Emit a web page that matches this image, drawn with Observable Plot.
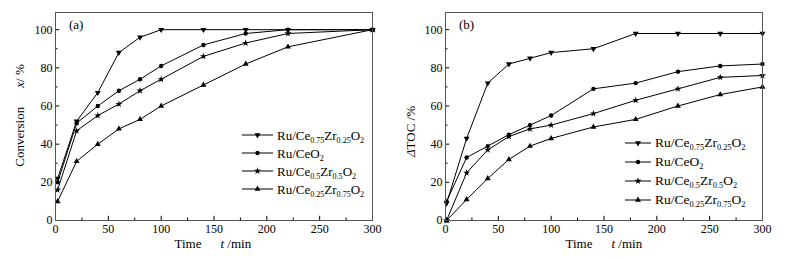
<!DOCTYPE html>
<html><head><meta charset="utf-8">
<script src="https://cdn.jsdelivr.net/npm/d3@7"></script>
<script src="https://cdn.jsdelivr.net/npm/@observablehq/plot@0.6"></script>
<style>
body{margin:0;background:#fff;font-family:"Liberation Serif","Times New Roman",serif;color:#000;}
#wrap{position:relative;width:787px;height:261px;overflow:hidden;}
.panel{position:absolute;top:0;}
.lab{position:absolute;white-space:nowrap;font-size:13px;line-height:1;}
.legend{position:absolute;font-size:13px;line-height:1;}
.row{position:absolute;left:0;white-space:nowrap;display:flex;align-items:center;}
.row svg{display:block;}
.row span{margin-left:4px;}
sub{font-size:0.62em;vertical-align:-0.35em;line-height:0;}
</style></head><body><div id="wrap"></div>
<script>
// ---- data ----
const seriesNames = ["Ru/Ce0.75Zr0.25O2", "Ru/CeO2", "Ru/Ce0.5Zr0.5O2", "Ru/Ce0.25Zr0.75O2"];
const seriesHTML = [
  "Ru/Ce<sub>0.75</sub>Zr<sub>0.25</sub>O<sub>2</sub>",
  "Ru/CeO<sub>2</sub>",
  "Ru/Ce<sub>0.5</sub>Zr<sub>0.5</sub>O<sub>2</sub>",
  "Ru/Ce<sub>0.25</sub>Zr<sub>0.75</sub>O<sub>2</sub>"
];
// panel (a): conversion x / %
const timeA = [2, 20, 40, 60, 80, 100, 140, 180, 220, 300];
const convCeZr7525 = [22, 52, 67, 88, 96, 100, 100, 100, 100, 100];
const convCeO2     = [20, 51, 60, 68, 74, 81, 92, 98, 100, 100];
const convCeZr5050 = [16, 47, 55, 61, 68, 74, 86, 93, 98, 100];
const convCeZr2575 = [10, 31, 40, 48, 53, 60, 71, 82, 91, 100];
// panel (b): ΔTOC / %
const timeB = [1, 20, 40, 60, 80, 100, 140, 180, 220, 260, 300];
const tocCeZr7525 = [9, 43, 72, 82, 85, 88, 90, 98, 98, 98, 98];
const tocCeO2     = [10, 33, 39, 45, 50, 55, 69, 72, 78, 81, 82];
const tocCeZr5050 = [0, 25, 37, 44, 48, 50, 56, 63, 69, 75, 76];
const tocCeZr2575 = [0, 11, 22, 32, 39, 43, 49, 53, 60, 66, 70];
// ticks
const xMajor = [0, 50, 100, 150, 200, 250, 300];
const xMinor = [25, 75, 125, 175, 225, 275];
const yMajor = [0, 20, 40, 60, 80, 100];
const yMinor = [10, 30, 50, 70, 90];

// ---- symbols ----
const triDown = {draw(ctx, size) {
  const y = -Math.sqrt(size / (3 * Math.sqrt(3)));
  ctx.moveTo(0, -y * 2);
  ctx.lineTo(-Math.sqrt(3) * y, y);
  ctx.lineTo(Math.sqrt(3) * y, y);
  ctx.closePath();
}};
const symbols = [triDown, "circle", "star", "triangle"];
const radii = [2.2, 2.2, 2.2, 2.2];

function tidy(t, arrs) {
  const out = [];
  arrs.forEach((a, k) => a.forEach((v, i) => out.push({t: t[i], v, name: seriesNames[k], k})));
  return out;
}

const wrap = document.getElementById("wrap");

function panel({left, width, marginRight, data}) {
  const H = 261, mT = 12, mB = 41, mL = 55;
  const chart = Plot.plot({
    width, height: H, marginLeft: mL, marginRight, marginTop: mT, marginBottom: mB,
    style: {fontFamily: "'Liberation Serif', 'Times New Roman', serif", fontSize: "12px", color: "#000", background: "transparent"},
    x: {domain: [0, 300], ticks: xMajor, tickSize: 0, tickPadding: 4, label: null},
    y: {domain: [0, 109], ticks: yMajor, tickSize: 0, tickPadding: 3, label: null},
    marks: [
      Plot.ruleX(xMajor, {x: d => d, y1: 0, y2: 2.2, stroke: "#000", strokeWidth: 1}),
      Plot.ruleX(xMinor, {x: d => d, y1: 0, y2: 1.3, stroke: "#000", strokeWidth: 1}),
      Plot.ruleY(yMajor, {y: d => d, x1: 0, x2: 4, stroke: "#000", strokeWidth: 1}),
      Plot.ruleY(yMinor, {y: d => d, x1: 0, x2: 2.4, stroke: "#000", strokeWidth: 1}),
      Plot.line(data, {x: "t", y: "v", z: "name", stroke: "#000", strokeWidth: 1}),
      ...symbols.map((s, k) => Plot.dot(data.filter(d => d.k === k), {
        x: "t", y: "v", symbol: s, r: radii[k], fill: "#000", stroke: "none"
      })),
      Plot.frame({stroke: "#555", strokeWidth: 1})
    ]
  });
  chart.classList.add("panel");
  chart.style.left = left + "px";
  wrap.appendChild(chart);
}

panel({left: 0, width: 390, marginRight: 18,
  data: tidy(timeA, [convCeZr7525, convCeO2, convCeZr5050, convCeZr2575])});
panel({left: 390, width: 397, marginRight: 25,
  data: tidy(timeB, [tocCeZr7525, tocCeO2, tocCeZr5050, tocCeZr2575])});

// ---- text labels ----
function label(html, x, y, opts = {}) {
  const d = document.createElement("div");
  d.className = "lab";
  d.innerHTML = html;
  d.style.left = x + "px";
  d.style.top = y + "px";
  if (opts.size) d.style.fontSize = opts.size + "px";
  wrap.appendChild(d);
  const w = d.offsetWidth, h = d.offsetHeight;
  if (opts.rotate) {
    d.style.left = (x - w / 2) + "px";
    d.style.top = (y - h / 2) + "px";
    d.style.transform = "rotate(-90deg)";
  } else if (opts.center) {
    d.style.left = (x - w / 2) + "px";
    d.style.top = (y - h / 2) + "px";
  } else {
    d.style.top = (y - h / 2) + "px";
  }
  return d;
}
label('Time<span style="display:inline-block;width:19px"></span><i>t</i> /min', 213, 243, {center: true});
label('Time<span style="display:inline-block;width:19px"></span><i>t</i> /min', 604, 243, {center: true});
label('Conversion<span style="display:inline-block;width:19px"></span><i>x</i>/ %', 19, 115, {rotate: true});
label('<i>Δ</i>TOC /%', 410, 131, {rotate: true});
label('(a)', 69, 24);
label('(b)', 459, 24);

// ---- legends ----
function legend(x, y0, gap, lineW, fs) {
  const lg = document.createElement("div");
  lg.className = "legend";
  lg.style.left = x + "px";
  lg.style.top = "0px";
  lg.style.fontSize = fs + "px";
  wrap.appendChild(lg);
  seriesNames.forEach((n, k) => {
    const row = document.createElement("div");
    row.className = "row";
    const s = d3.create("svg").attr("width", lineW).attr("height", 10);
    s.append("line").attr("x1", 0).attr("x2", lineW).attr("y1", 5).attr("y2", 5).attr("stroke", "#000").attr("stroke-width", 1);
    const sym = typeof symbols[k] === "string"
      ? {circle: d3.symbolCircle, star: d3.symbolStar, triangle: d3.symbolTriangle}[symbols[k]]
      : symbols[k];
    s.append("path").attr("transform", `translate(${lineW / 2},5)`)
      .attr("d", d3.symbol(sym, Math.PI * radii[k] * radii[k])()).attr("fill", "#000");
    row.appendChild(s.node());
    const sp = document.createElement("span");
    sp.innerHTML = seriesHTML[k];
    row.appendChild(sp);
    lg.appendChild(row);
    row.style.top = (y0 + gap * k - row.offsetHeight / 2) + "px";
  });
}
legend(242, 135, 18, 31, 13);
legend(625, 143, 19, 26, 13.5);
</script></body></html>
